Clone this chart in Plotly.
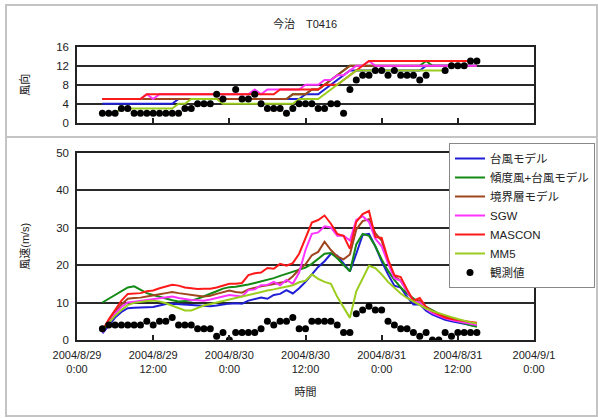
import plotly.graph_objects as go
import pandas as pd

FONT = "Liberation Sans, Noto Sans CJK JP"
TXT = "#222222"

# hourly time stamps 2004/8/29 4:00 ... 2004/8/31 15:00
times = pd.date_range("2004-08-29 04:00", periods=60, freq="h")

series_names = ["台風モデル", "傾度風+台風モデル", "境界層モデル", "SGW", "MASCON", "MM5"]
series_colors = ["#1f1fd6", "#138a13", "#a0461e", "#ff33ff", "#ff1a1a", "#9acd1e"]
obs_name = "観測値"

# ---- wind direction (16 points) ----
dir_typhoon = [4, 4, 4, 4, 4, 4, 4, 4, 4, 4, 4, 4,
               5, 5, 5, 5, 5, 5, 5, 5, 5, 5, 5, 5, 5, 5, 5, 5, 5, 5, 5, 5,
               6, 6, 6, 7, 8, 9, 10, 11,
               11, 11, 11, 11, 11, 11, 11, 11, 11, 11, 11,
               12, 12, 12, 12, 12, 12, 12, 12, 12]
dir_gradient = [5, 5, 5, 5, 5, 5, 5, 5, 5, 5, 5, 5, 5, 5, 5, 5, 5, 5, 5, 5,
                5, 5, 5, 5, 5, 5, 5, 5, 5, 5,
                6, 6, 6, 7, 7, 8, 9, 10, 11,
                12, 12, 12, 12, 12, 12, 12, 12, 12, 12, 12, 12, 13, 12,
                12, 12, 12, 12, 12, 12, 12]
dir_boundary = [5, 5, 5, 5, 5, 5, 5, 5, 5, 5, 5, 5, 5, 5, 5, 5, 5, 5, 5, 5,
                5, 5, 5, 5, 5, 5, 5, 5, 5, 5,
                6, 6, 6, 7, 7, 8, 9, 10, 11, 12,
                12, 12, 12, 12, 12, 12, 12, 12, 12, 12, 12, 12, 12, 12, 12, 12, 12, 12, 12, 12]
dir_sgw = [5, 5, 5, 5, 5, 5, 5, 6, 5, 6,
           6, 6, 6, 6, 6, 6, 6, 6, 6, 6, 6, 6, 6, 6,
           7, 6, 7, 7, 7, 7, 7, 7, 8, 8, 8, 9, 9, 10, 10, 11, 12, 12, 13,
           12, 12, 12, 12, 12, 12, 12, 12, 12, 12, 12, 12, 12, 12, 12, 12, 12]
dir_mascon = [5, 5, 5, 5, 5, 5, 5,
              6, 6, 6, 6, 6, 6, 6, 6, 6, 6, 6, 6, 6, 6, 6, 6, 6, 6, 6, 6, 6,
              7, 7, 7, 7, 7, 7, 7, 8, 8, 8, 9, 10, 11, 12,
              13, 13, 13, 13, 13, 13, 13, 13, 13, 13, 13, 13, 13, 13, 13, 13, 13, 13]
dir_mm5 = [2, 2, 2, 3, 3, 3, 3, 3, 3, 3, 3, 3, 4, 4,
           5, 5, 5, 5, 5,
           4, 4, 4, 4, 4, 4, 4, 4, 4, 4, 4, 4,
           5, 5, 5, 5, 6, 7, 8, 9, 10,
           11, 11, 11, 11, 11, 11, 11, 11, 11, 11, 11, 11, 11, 11, 11,
           None, None, None, None, None]
dir_obs = [2, 2, 2, 3, 3, 2, 2, 2, 2, 2, 2, 2, 2, 3, 3, 4, 4, 4, 6, 5, None, 7, 5, 5, 6, 4,
           3, 3, 3, 2, 3, 4, 4, 4, 3, 3, 4, 4, 2, 7, 9, 10, 10, 11, 11, 10, 11, 10, 10, 10,
           9, 10, None, None, 11, 12, 12, 12, 13, 13]

# ---- wind speed (m/s) ----
spd_typhoon = [1.8, 4, 6, 7.5, 8.5, 8.6, 8.6, 8.7, 8.8, 9.2, 9.6, 9.7, 9.6, 9.5, 9.4,
               9.3, 9.2, 9.0, 9.2, 9.5, 9.7, 9.8, 9.7, 10.5, 10.8, 11.3, 11.0, 12, 12.3, 13.3,
               12.4, 13.8, 15.5, 17.5, 19.5, 21, 23, 22.5, 20.5, 18.3, 23, 28, 28.3, 25, 21,
               17.5, 14.5, 14, 11.5, 9.5, 9.5, 7.8, 6.8, 6, 5.4, 5, 4.6, 4.3, 4, 3.8]
spd_gradient = [10, 11, 12, 13, 14, 14.3, 13.3, 12.5, 12, 11.5, 11, 10.6, 10.3, 10.3, 10.5,
                11, 11.6, 12.3, 13, 13.7, 14.1, 14.2, 14.4, 14.8, 15.2, 15.6, 16, 16.5, 17.1, 17.6,
                18.1, 18.6, 19.3, 20.3, 21.6, 23, 23.2, 21.8, 20, 18.3, 25.5, 28.3, 27.8, 25, 21.5,
                18.5, 16, 14, 12.4, 11, 9.8, 8.8, 7.8, 7, 6.3, 5.8, 5, 4.4, 3.9, 3.5]
spd_boundary = [2.5, 5, 7.5, 9.5, 11, 11.2, 11.3, 11.6, 11.8, 12.2, 12.5, 12.8, 12.5, 12.2, 12,
                11.8, 11.6, 11.8, 12.3, 12.8, 13.2, 12.8, 12.6, 13.5, 14, 14.3, 14.6, 15, 15.3, 15.6,
                17, 18.8, 20.2, 22.6, 23.5, 26.2, 24, 22.3, 21.5, 22.8, 29.5, 31.7, 32.2, 28.5, 26.5,
                21, 17, 15.8, 13, 10.5, 10.5, 8.8, 7.6, 6.8, 6.2, 5.7, 5.3, 4.9, 4.6, 4.3]
spd_sgw = [2, 4.5, 7, 8.8, 10, 10.2, 10.4, 10.7, 10.9, 11.1, 11.4, 11.6, 11.2, 10.9, 10.7,
           10.6, 10.5, 10.8, 11.2, 11.7, 12, 11.8, 11.6, 13.3, 13.5, 14.6, 14.7, 15.5, 14.6, 16,
           15, 18, 24, 28.3, 28.7, 30.3, 30, 27.8, 27.8, 26.5, 32, 33, 31.5, 27, 25,
           20.5, 16.5, 15.8, 13, 10.3, 10, 8.3, 7.2, 6.4, 5.8, 5.3, 4.9, 4.6, 4.3, 4.0]
spd_mascon = [2.5, 5.5, 8, 10.5, 12.3, 12.5, 12.5, 13, 13.2, 13.8, 14.3, 14.7, 14.5, 14, 13.8,
              13.6, 13.7, 13.7, 14, 14.5, 15, 15, 15.2, 17.3, 17.8, 18, 19.2, 19, 20.3, 19.8,
              20.5, 23, 27.3, 31.3, 32, 33.2, 31, 28.3, 27.8, 24.3, 31.5, 33.6, 34.4, 27.5, 27.2,
              21.5, 17.3, 16.8, 13.5, 10.5, 11.2, 8.8, 7.6, 6.7, 6, 5.6, 5.3, 5, 4.8, 4.6]
spd_mm5 = [2.5, 4.5, 6.5, 8, 9.3, 9.9, 10.2, 10.4, 10.5, 10.3, 9.8, 9.2, 8.4, 7.9, 7.9,
           8.6, 9.2, 9.6, 10, 10.5, 11, 11.3, 11.6, 12, 12.5, 12.8, 13.2, 13.5, 13.8, 14.2,
           14.6, 15.4, 15.8, 17.5, 16.3, 15.5, 15, 11.5, 8.5, 5.9, 13, 16.5, 19.8, 19.2, 17.5,
           15.5, 14, 12.4, 11.2, 10.2, 9.3, 8.4, 7.7, 7.1, 6.6, 6.1, 5.6, 5.1, 4.7, 4.4]
spd_obs = [3, 4, 4, 4, 4, 4, 4, 5, 4, 5, 5, 6, 4, 4, 4, 3, 3, 3, 1, 2, 0, 2, 2, 2, 2,
           3, 5, 4, 5, 5, 6, 3, 3, 5, 5, 5, 5, 4, 2, 2, 7, 8, 9, 8, 8, 5, 4, 3, 3, 2, 1, 2,
           0, 0, 2, 1, 2, 2, 2, 2]

tick_vals = ["2004-08-29 00:00", "2004-08-29 12:00", "2004-08-30 00:00", "2004-08-30 12:00",
             "2004-08-31 00:00", "2004-08-31 12:00", "2004-09-01 00:00"]
tick_text = ["2004/8/29<br>0:00", "2004/8/29<br>12:00", "2004/8/30<br>0:00", "2004/8/30<br>12:00",
             "2004/8/31<br>0:00", "2004/8/31<br>12:00", "2004/9/1<br>0:00"]

dir_series = [dir_typhoon, dir_gradient, dir_boundary, dir_sgw, dir_mascon, dir_mm5]
spd_series = [spd_typhoon, spd_gradient, spd_boundary, spd_sgw, spd_mascon, spd_mm5]

W, H = 598, 418
def px_x(p):
    return p / W
def px_y(p):
    return 1 - p / H

fig = go.Figure()
for name, col, vals in zip(series_names, series_colors, dir_series):
    fig.add_trace(go.Scatter(x=times, y=vals, mode="lines", name=name, showlegend=False,
                             line=dict(color=col, width=2), xaxis="x", yaxis="y",
                             connectgaps=False))
fig.add_trace(go.Scatter(x=times, y=dir_obs, mode="markers", name=obs_name, showlegend=False,
                         marker=dict(color="black", size=7), xaxis="x", yaxis="y"))
for name, col, vals in zip(series_names, series_colors, spd_series):
    fig.add_trace(go.Scatter(x=times, y=vals, mode="lines", name=name,
                             line=dict(color=col, width=2), xaxis="x2", yaxis="y2"))
fig.add_trace(go.Scatter(x=times, y=spd_obs, mode="markers", name=obs_name,
                         marker=dict(color="black", size=7), xaxis="x2", yaxis="y2"))

xdom = [px_x(77), px_x(534)]
common_x = dict(type="date", range=[tick_vals[0], tick_vals[-1]], tickvals=tick_vals,
                ticks="inside", ticklen=5, tickcolor="#222", tickwidth=1.5,
                showline=True, linecolor="#222", linewidth=1.5, mirror=True,
                showgrid=False, zeroline=False, domain=xdom, automargin=False,
                ticklabelstandoff=4,
                tickfont=dict(family=FONT, size=11, color=TXT))
common_y = dict(showgrid=True, gridcolor="#2a2a2a", gridwidth=1.5, showline=True,
                linecolor="#222", linewidth=1.5, mirror=True, zeroline=False, ticks="",
                automargin=False, ticklabelstandoff=4,
                tickfont=dict(family=FONT, size=11.5, color=TXT))

fig.update_layout(
    template="none",
    width=W, height=H, margin=dict(l=0, r=0, t=0, b=0, autoexpand=False),
    paper_bgcolor="white", plot_bgcolor="white",
    font=dict(family=FONT, size=11, color=TXT),
    xaxis=dict(common_x, anchor="y", showticklabels=False),
    yaxis=dict(common_y, domain=[px_y(122.7), px_y(46.7)], range=[0, 16],
               tickvals=[0, 4, 8, 12, 16], anchor="x",
               title=dict(text="風向", font=dict(family=FONT, size=11, color=TXT), standoff=24)),
    xaxis2=dict(common_x, anchor="y2", ticktext=tick_text,
                title=dict(text="時間", font=dict(family=FONT, size=11, color=TXT), standoff=14)),
    yaxis2=dict(common_y, domain=[px_y(340), px_y(152.5)], range=[0, 50],
                tickvals=[0, 10, 20, 30, 40, 50], anchor="x2",
                title=dict(text="風速(m/s)", font=dict(family=FONT, size=11, color=TXT), standoff=24)),
    legend=dict(x=px_x(449), y=px_y(143), xanchor="left", yanchor="top",
                bgcolor="white", bordercolor="#888", borderwidth=1,
                font=dict(family=FONT, size=11.5, color=TXT), tracegroupgap=0,
                itemwidth=30),
    showlegend=True,
)

fig.add_annotation(text="今治　T0416", x=px_x(305), y=px_y(23), xref="paper", yref="paper",
                   xanchor="center", yanchor="middle",
                   showarrow=False, font=dict(family=FONT, size=11, color=TXT))

fig.add_shape(type="rect", xref="paper", yref="paper", x0=px_x(6), x1=px_x(597),
              y0=px_y(416), y1=px_y(5), line=dict(color="#c4c4c4", width=2), layer="below")
fig.add_shape(type="line", xref="paper", yref="paper", x0=px_x(6), x1=px_x(597),
              y0=px_y(137), y1=px_y(137), line=dict(color="#c4c4c4", width=2), layer="below")

fig.write_html("out.html")
